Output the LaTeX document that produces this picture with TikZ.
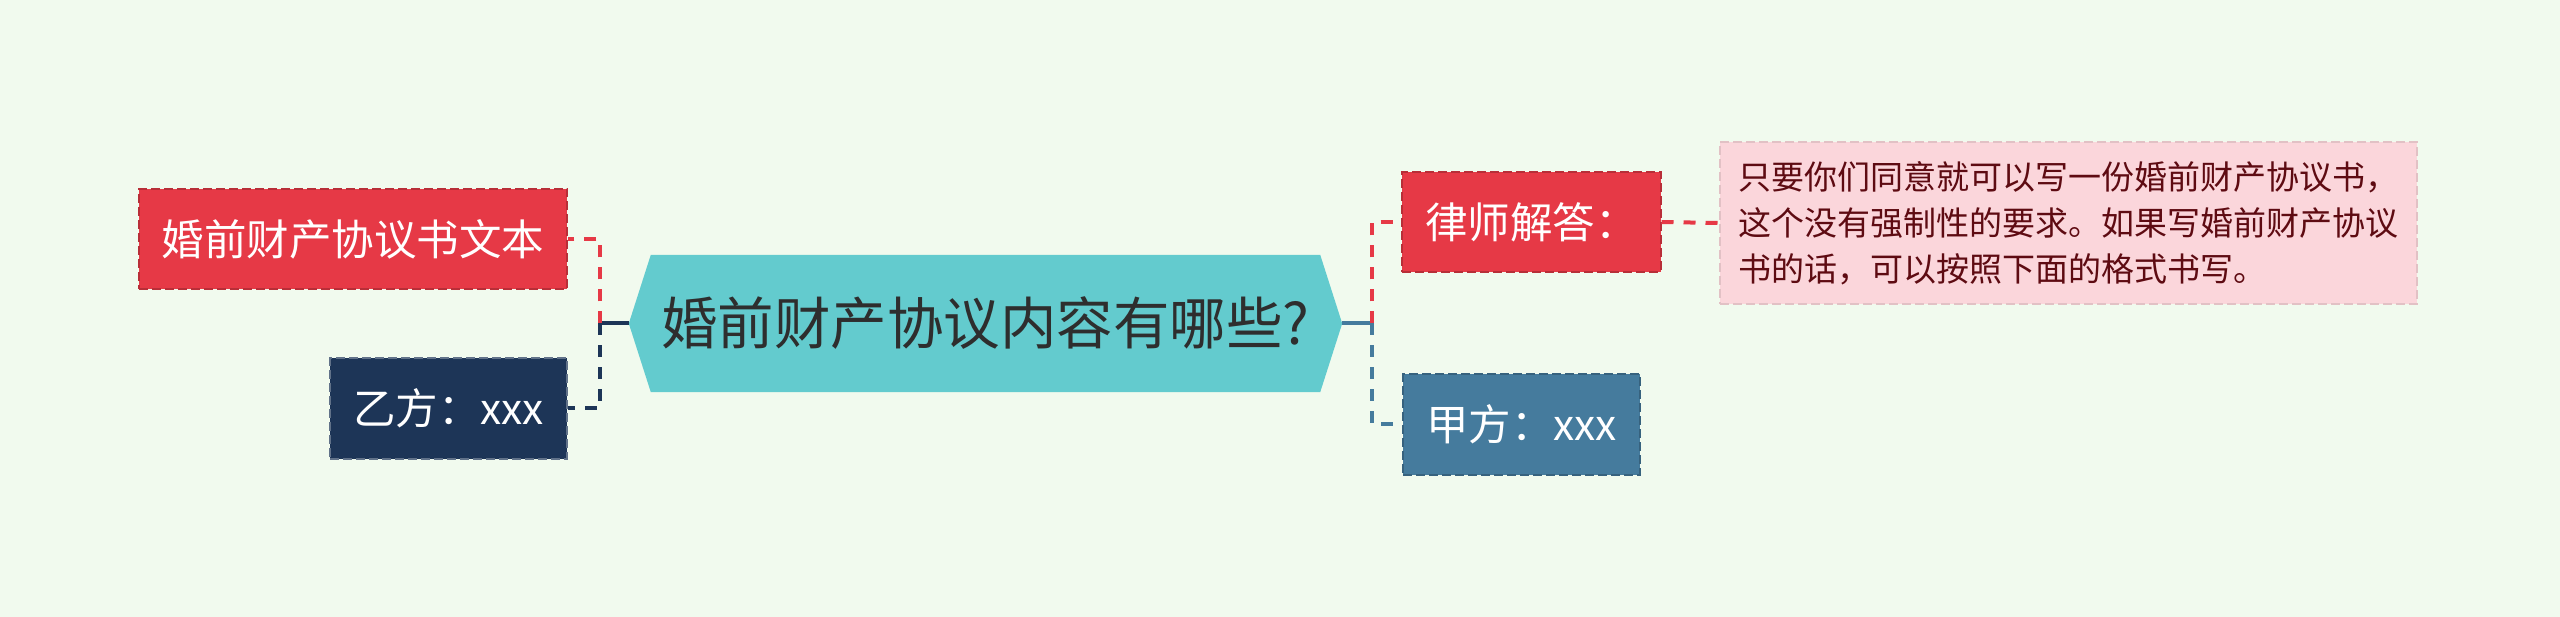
\documentclass[tikz,border=0pt]{standalone}
\usepackage{fontspec}
\setmainfont{Noto Sans CJK SC}
\usetikzlibrary{backgrounds}

\definecolor{bgcol}{HTML}{F1FAEE}
\definecolor{redfill}{HTML}{E63946}
\definecolor{navyfill}{HTML}{1D3557}
\definecolor{steelfill}{HTML}{457B9D}
\definecolor{tealfill}{HTML}{63CBCE}
\definecolor{pinkfill}{HTML}{FBD6DB}
\definecolor{pinktext}{HTML}{5E0B12}
\definecolor{roottext}{HTML}{2E2E2E}

\tikzset{
  topicbox/.style={inner xsep=23pt, inner ysep=0pt, minimum height=100pt,
    line width=2pt, dash pattern=on 9pt off 4pt, text=white,
    font=\fontsize{42.5}{50}\selectfont},
  redbox/.style={topicbox, fill=redfill, draw=redfill!80!black},
  navybox/.style={topicbox, fill=navyfill, draw=navyfill!70!white},
  steelbox/.style={topicbox, fill=steelfill, draw=steelfill!80!black},
  notebox/.style={fill=pinkfill, draw=pinkfill!90!black, line width=2pt,
    dash pattern=on 9pt off 4pt, minimum width=697pt, minimum height=162pt,
    inner sep=0pt, align=left, text=pinktext,
    font=\fontsize{33}{46}\selectfont},
  trunk/.style={line width=4pt},
  link/.style={line width=4pt, dash pattern=on 12pt off 10pt}
}

\begin{document}
\begin{tikzpicture}[x=1pt,y=-1pt]

\node[minimum width=713pt, minimum height=137pt, inner sep=0pt, text=roottext,
  font=\fontsize{56.5}{64}\selectfont] (root) at (985.5,323.5) {婚前财产协议内容有哪些?};

\node[redbox, anchor=east] (text) at (568,239) {婚前财产协议书文本};
\node[navybox, anchor=east] (yi) at (568,408.5) {乙方：xxx};
\node[redbox, anchor=west] (lawyer) at (1401,222) {律师解答：};
\node[steelbox, anchor=west] (jia) at (1402,424.5) {甲方：xxx};
\node[notebox, anchor=west] (answer) at (1719,223) {只要你们同意就可以写一份婚前财产协议书，\\这个没有强制性的要求。如果写婚前财产协议\\书的话，可以按照下面的格式书写。};

\draw[trunk, navyfill] (root.west) -- ++(-29,0) coordinate (lj);
\draw[link, redfill] (lj) |- (text.east);
\draw[link, navyfill] (lj) |- (yi.east);

\draw[trunk, steelfill] (root.east) -- ++(30,0) coordinate (rj);
\draw[link, redfill] (rj) |- (lawyer.west);
\draw[link, steelfill] (rj) |- (jia.west);
\draw[link, redfill] (lawyer.east) -- (answer.west);

\begin{scope}[on background layer]
\fill[bgcol] (0,0) rectangle (2560,617);
\fill[tealfill] ([xshift=22pt]root.north west) -- ([xshift=-22pt]root.north east)
  -- (root.east) -- ([xshift=-22pt]root.south east)
  -- ([xshift=22pt]root.south west) -- (root.west) -- cycle;
\end{scope}

\end{tikzpicture}
\end{document}
